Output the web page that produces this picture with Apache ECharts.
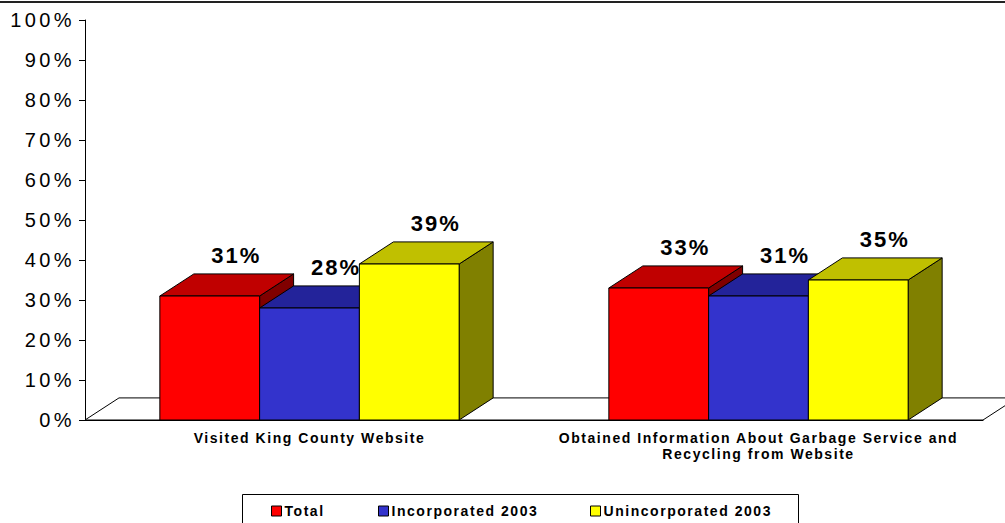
<!DOCTYPE html>
<html>
<head>
<meta charset="utf-8">
<script src="https://cdn.jsdelivr.net/npm/echarts@6.0.0/dist/echarts.min.js"></script>
<style>
html,body{margin:0;padding:0;background:#fff;}
#c{width:1005px;height:523px;}
#c text{letter-spacing:0.11em;}
#c text[style*="20px"]{letter-spacing:0.17em;}
#c text[style*="22px"]{letter-spacing:0.09em;}
</style>
</head>
<body>
<div id="c"></div>
<script>
// ---- data ----
const categories = [
  'Visited King County Website',
  'Obtained Information About Garbage Service and\nRecycling from Website'
];
const seriesNames = ['Total', 'Incorporated 2003', 'Unincorporated 2003'];
const totalValues = [31, 33];
const incorporatedValues = [28, 31];
const unincorporatedValues = [39, 35];
const yMin = 0, yMax = 100, yStep = 10; // tick labels 0% .. 100%

// ---- styles ----
const frontColors = ['#FF0000', '#3333CC', '#FFFF00'];
const topColors   = ['#C00000', '#23239A', '#C0C000'];
const sideColors  = ['#800000', '#1A1A66', '#808000'];
const BAR_RATIO = 0.2222;   // bar width / category band
const DEPTH_RATIO = 0.0757; // 3D depth x offset / band
const DEPTH_SLOPE = 0.65;   // dy / dx

const allValues = [totalValues, incorporatedValues, unincorporatedValues];

function barRenderer(si, nSeries) {
  return function (params, api) {
    const ci = api.value(0), v = api.value(1);
    const base = api.coord([ci, 0]);
    const top = api.coord([ci, v]);
    const band = api.size([1, 0])[0];
    const bw = band * BAR_RATIO;
    const dx = band * DEPTH_RATIO, dy = dx * DEPTH_SLOPE;
    const x0 = base[0] - bw * nSeries / 2 + si * bw, x1 = x0 + bw;
    const y0 = base[1], y1 = top[1];
    const stroke = { stroke: '#000', lineWidth: 1 };
    return {
      type: 'group',
      children: [
        { type: 'polygon', shape: { points: [[x1, y1], [x1 + dx, y1 - dy], [x1 + dx, y0 - dy], [x1, y0]] },
          style: Object.assign({ fill: sideColors[si] }, stroke) },
        { type: 'polygon', shape: { points: [[x0, y1], [x1, y1], [x1 + dx, y1 - dy], [x0 + dx, y1 - dy]] },
          style: Object.assign({ fill: topColors[si] }, stroke) },
        { type: 'rect', shape: { x: x0, y: y1, width: bw, height: y0 - y1 },
          style: Object.assign({ fill: frontColors[si] }, stroke) },
        { type: 'text', x: (x0 + x1) / 2 + dx * 0.78, y: y1 - dy - 7,
          style: { text: v + '%', font: 'bold 22px Arial', fill: '#000', align: 'center', verticalAlign: 'bottom' } }
      ]
    };
  };
}

function floorRenderer(params, api) {
  const cs = params.coordSys;
  const band = cs.width / categories.length;
  const dx = band * DEPTH_RATIO, dy = dx * DEPTH_SLOPE;
  const yb = cs.y + cs.height;
  return {
    type: 'polygon',
    shape: { points: [[cs.x, yb], [cs.x + cs.width, yb], [cs.x + cs.width + dx, yb - dy], [cs.x + dx, yb - dy]] },
    style: { fill: '#fff', stroke: '#000', lineWidth: 1 },
    silent: true
  };
}

const series = [{
  type: 'custom', name: 'floor', renderItem: floorRenderer, data: [[0, 0]], silent: true
}];
allValues.forEach(function (vals, si) {
  series.push({
    type: 'custom',
    name: seriesNames[si],
    itemStyle: { color: frontColors[si] },
    renderItem: barRenderer(si, allValues.length),
    data: vals.map(function (v, ci) { return [ci, v]; })
  });
});

const legendLeft = [271, 378, 590];
const legends = seriesNames.map(function (n, i) {
  return {
    data: [n], left: legendLeft[i], top: 504, padding: 0,
    icon: 'rect', itemWidth: 10, itemHeight: 10,
    itemStyle: { borderColor: '#000', borderWidth: 1 },
    textStyle: { fontFamily: 'Arial', fontSize: 14, fontWeight: 'bold', color: '#000', padding: [0, 0, 0, -2] },
    selectedMode: false
  };
});

const chart = echarts.init(document.getElementById('c'), null, { renderer: 'svg' });
chart.setOption({
  animation: false,
  backgroundColor: '#fff',
  grid: { left: 85, right: 22, top: 20, bottom: 103, containLabel: false, outerBoundsMode: 'none' },
  xAxis: {
    type: 'category', data: categories, boundaryGap: true,
    axisLine: { show: true, lineStyle: { color: '#000', width: 1 } },
    axisTick: { show: false },
    axisLabel: { interval: 0, color: '#000', fontFamily: 'Arial', fontSize: 14, fontWeight: 'bold', margin: 10, lineHeight: 16 }
  },
  yAxis: {
    type: 'value', min: yMin, max: yMax, interval: yStep,
    axisLine: { show: true, lineStyle: { color: '#000', width: 1 } },
    axisTick: { show: true, length: 6, lineStyle: { color: '#000' } },
    splitLine: { show: false },
    axisLabel: { formatter: '{value}%', color: '#000', fontFamily: 'Arial', fontSize: 20, margin: 10 }
  },
  legend: legends,
  graphic: [
    { type: 'rect', shape: { x: 242.5, y: 494.5, width: 556, height: 40 },
      style: { fill: '#fff', stroke: '#000', lineWidth: 1 }, z: -10 },
    { type: 'line', shape: { x1: 0, y1: 2, x2: 1005, y2: 2 },
      style: { stroke: '#222', lineWidth: 2 } }
  ],
  series: series
});
</script>
</body>
</html>
